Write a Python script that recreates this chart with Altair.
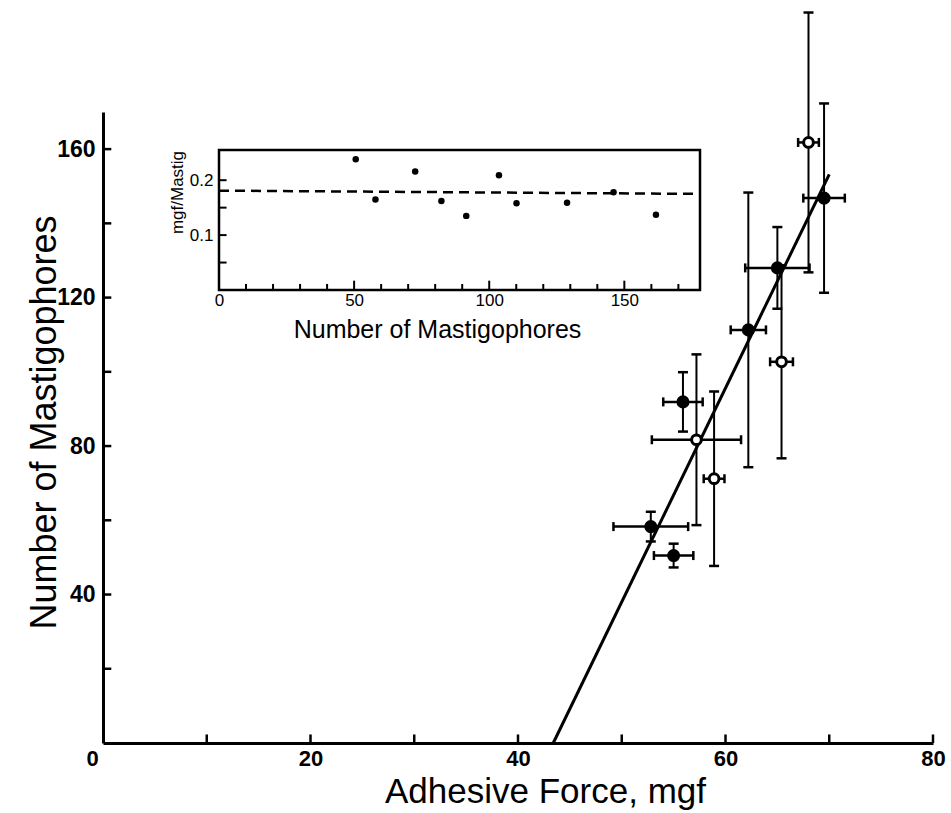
import altair as alt
import pandas as pd

# ---------------- main panel data ----------------
filled_force = [52.8, 55.0, 55.9, 62.2, 65.0, 69.5]
filled_n = [58.3, 50.5, 91.9, 111.3, 128.0, 146.8]
filled_dforce = [3.6, 1.9, 1.9, 1.7, 3.1, 2.0]
filled_dn = [4.0, 3.2, 8.0, 37.0, 11.0, 25.5]

open_force = [57.2, 58.9, 65.4, 68.0]
open_n = [81.7, 71.2, 102.7, 161.8]
open_dforce = [4.3, 1.0, 1.1, 1.0]
open_dn = [23.0, 23.5, 26.0, 35.0]

fit_force = [43.4, 70.0]
fit_n = [0.0, 153.2]

x_ticks = [10, 20, 30, 40, 50, 60, 70, 80]
x_labels = [0, 20, 40, 60, 80]
y_ticks = [20, 40, 60, 80, 100, 120, 140, 160]
y_labels = [40, 80, 120, 160]

# ---------------- inset data ----------------
inset_n = [50.6, 57.9, 72.6, 82.3, 91.5, 103.6, 110.1, 128.8, 146.0, 161.7]
inset_ratio = [0.238, 0.165, 0.216, 0.162, 0.135, 0.209, 0.158, 0.159, 0.178, 0.137]
inset_mean_n = [0, 178]
inset_mean_ratio = [0.181, 0.175]
inset_x_minor = [10, 20, 30, 40, 60, 70, 80, 90, 110, 120, 130, 140, 160, 170]
inset_x_major = [50, 100, 150]
inset_x_labels = [0, 50, 100, 150]
inset_y_ticks = [0.05, 0.1, 0.15, 0.2]
inset_y_labels = [0.1, 0.2]

FONT = "Liberation Sans"
W, H = 830, 631

pts = pd.concat([
    pd.DataFrame({"force": filled_force, "n": filled_n, "df": filled_dforce,
                  "dn": filled_dn, "kind": "filled"}),
    pd.DataFrame({"force": open_force, "n": open_n, "df": open_dforce,
                  "dn": open_dn, "kind": "open"}),
], ignore_index=True)
pts["f_lo"] = pts["force"] - pts["df"]
pts["f_hi"] = pts["force"] + pts["df"]
pts["n_lo"] = pts["n"] - pts["dn"]
pts["n_hi"] = pts["n"] + pts["dn"]

fit = pd.DataFrame({"force": fit_force, "n": fit_n})

xs = alt.Scale(domain=[0, 80], nice=False, zero=False)
ys = alt.Scale(domain=[0, 170], nice=False, zero=False)

x_axis = alt.Axis(values=x_labels, tickSize=0, labelFont=FONT, labelFontSize=22,
                  labelFontWeight="bold", labelColor="black", labelPadding=5,
                  labelFlush=False,
                  labelOffset={"condition": {"test": "datum.value == 0", "value": -11},
                               "value": 0},
                  domainColor="black", domainWidth=3, grid=False,
                  title="Adhesive Force, mgf", titleFont=FONT, titleFontSize=35,
                  titleFontWeight="normal", titleColor="black",
                  titleX=442, titleY=59, titleBaseline="alphabetic", titleAlign="center")
y_axis = alt.Axis(values=y_labels, tickSize=0, labelFont=FONT, labelFontSize=23,
                  labelFontWeight="bold", labelColor="black", labelPadding=8,
                  domainColor="black", domainWidth=3, grid=False,
                  title="Number of Mastigophores", titleFont=FONT, titleFontSize=36,
                  titleFontWeight="normal", titleColor="black", titleAngle=-90,
                  titleX=-59, titleY=310, titleBaseline="middle", titleAlign="center")


def X(field):
    return alt.X(field, type="quantitative", scale=xs, axis=x_axis)


def Y(field):
    return alt.Y(field, type="quantitative", scale=ys, axis=y_axis)


fit_line = alt.Chart(fit).mark_line(color="black", strokeWidth=3).encode(
    x=X("force"), y=Y("n"))

v_err = alt.Chart(pts).mark_rule(color="black", strokeWidth=2).encode(
    x=X("force"), y=Y("n_lo"), y2="n_hi")
v_cap_lo = alt.Chart(pts).mark_tick(orient="horizontal", size=10, thickness=2.5,
                                     color="black", opacity=1).encode(x=X("force"), y=Y("n_lo"))
v_cap_hi = alt.Chart(pts).mark_tick(orient="horizontal", size=10, thickness=2.5,
                                     color="black", opacity=1).encode(x=X("force"), y=Y("n_hi"))
h_err = alt.Chart(pts).mark_rule(color="black", strokeWidth=2.5).encode(
    x=X("f_lo"), x2="f_hi", y=Y("n"))
h_cap_lo = alt.Chart(pts).mark_tick(orient="vertical", size=9, thickness=2.5,
                                     color="black", opacity=1).encode(x=X("f_lo"), y=Y("n"))
h_cap_hi = alt.Chart(pts).mark_tick(orient="vertical", size=9, thickness=2.5,
                                     color="black", opacity=1).encode(x=X("f_hi"), y=Y("n"))

filled_pts = alt.Chart(pts).transform_filter(alt.datum.kind == "filled").mark_point(
    shape="circle", filled=True, color="black", size=170, opacity=1).encode(
    x=X("force"), y=Y("n"))
open_pts = alt.Chart(pts).transform_filter(alt.datum.kind == "open").mark_point(
    shape="circle", filled=True, fill="white", stroke="black", strokeWidth=3,
    size=95, opacity=1, fillOpacity=1).encode(x=X("force"), y=Y("n"))

xt = pd.DataFrame({"v": x_ticks})
yt = pd.DataFrame({"v": y_ticks})
x_tick_marks = alt.Chart(xt).mark_rule(color="black", strokeWidth=2.5).encode(
    x=X("v"), y=alt.YDatum(0, type="quantitative", scale=ys, axis=y_axis),
    y2=alt.Y2Datum(2.3))
y_tick_marks = alt.Chart(yt).mark_rule(color="black", strokeWidth=2.5).encode(
    y=Y("v"), x=alt.XDatum(0, type="quantitative", scale=xs, axis=x_axis),
    x2=alt.X2Datum(0.8))

main = alt.layer(fit_line, v_err, v_cap_lo, v_cap_hi, h_err, h_cap_lo, h_cap_hi,
                 x_tick_marks, y_tick_marks, filled_pts, open_pts)

# ---------------- inset ----------------
ixs = alt.Scale(domain=[0, 178], range=[116, 597], nice=False, zero=False)
iys = alt.Scale(domain=[0, 0.255], range=[178, 38], nice=False, zero=False)

ix_axis = alt.Axis(orient="bottom", offset=-(H - 178), values=inset_x_labels, tickSize=0,
                   domain=False, grid=False, labelFont=FONT, labelFontSize=17,
                   labelColor="black", labelPadding=2, labelFlush=False,
                   title="Number of Mastigophores", titleFont=FONT, titleFontSize=25,
                   titleFontWeight="normal", titleColor="black",
                   titleX=334, titleY=47, titleBaseline="alphabetic", titleAlign="center")
iy_axis = alt.Axis(orient="left", offset=-116, values=inset_y_labels, tickSize=0,
                   domain=False, grid=False, format=".1f", labelFont=FONT,
                   labelFontSize=17, labelColor="black", labelPadding=6,
                   title="mgf/Mastig", titleFont=FONT, titleFontSize=17,
                   titleFontWeight="normal", titleColor="black", titleAngle=-90,
                   titleX=-42, titleY=80, titleBaseline="middle", titleAlign="center")


def IX(field):
    return alt.X(field, type="quantitative", scale=ixs, axis=ix_axis)


def IY(field):
    return alt.Y(field, type="quantitative", scale=iys, axis=iy_axis)


ins = pd.DataFrame({"n": inset_n, "r": inset_ratio})
mean_df = pd.DataFrame({"n": inset_mean_n, "r": inset_mean_ratio})

frame = alt.Chart(pd.DataFrame({"a": [0]})).mark_rect(
    fill="white", fillOpacity=1, stroke="black", strokeWidth=2.5).encode(
    x=alt.XDatum(0, type="quantitative", scale=ixs, axis=ix_axis),
    x2=alt.X2Datum(178),
    y=alt.YDatum(0, type="quantitative", scale=iys, axis=iy_axis),
    y2=alt.Y2Datum(0.255))

ixt_minor = alt.Chart(pd.DataFrame({"v": inset_x_minor})).mark_rule(
    color="black", strokeWidth=2).encode(
    x=IX("v"), y=alt.YDatum(0, type="quantitative", scale=iys, axis=iy_axis),
    y2=alt.Y2Datum(0.011))
ixt_major = alt.Chart(pd.DataFrame({"v": inset_x_major})).mark_rule(
    color="black", strokeWidth=2).encode(
    x=IX("v"), y=alt.YDatum(0, type="quantitative", scale=iys, axis=iy_axis),
    y2=alt.Y2Datum(0.017))
iyt = alt.Chart(pd.DataFrame({"v": inset_y_ticks})).mark_rule(
    color="black", strokeWidth=2).encode(
    y=IY("v"), x=alt.XDatum(0, type="quantitative", scale=ixs, axis=ix_axis),
    x2=alt.X2Datum(2.8))

mean_line = alt.Chart(mean_df).mark_line(color="black", strokeWidth=2.5,
                                         strokeDash=[10, 6]).encode(x=IX("n"), y=IY("r"))
inset_pts = alt.Chart(ins).mark_point(shape="circle", filled=True, color="black",
                                      size=42, opacity=1).encode(x=IX("n"), y=IY("r"))

inset = alt.layer(frame, ixt_minor, ixt_major, iyt, mean_line, inset_pts)

chart = alt.layer(main, inset).resolve_scale(
    x="independent", y="independent"
).properties(
    width=W, height=H,
    autosize=alt.AutoSizeParams(type="none"),
    padding={"left": 103, "top": 112, "right": 18, "bottom": 70},
    background="white",
).configure_view(stroke=None)

chart.save("out.html", embed_options={"renderer": "svg", "actions": False})
